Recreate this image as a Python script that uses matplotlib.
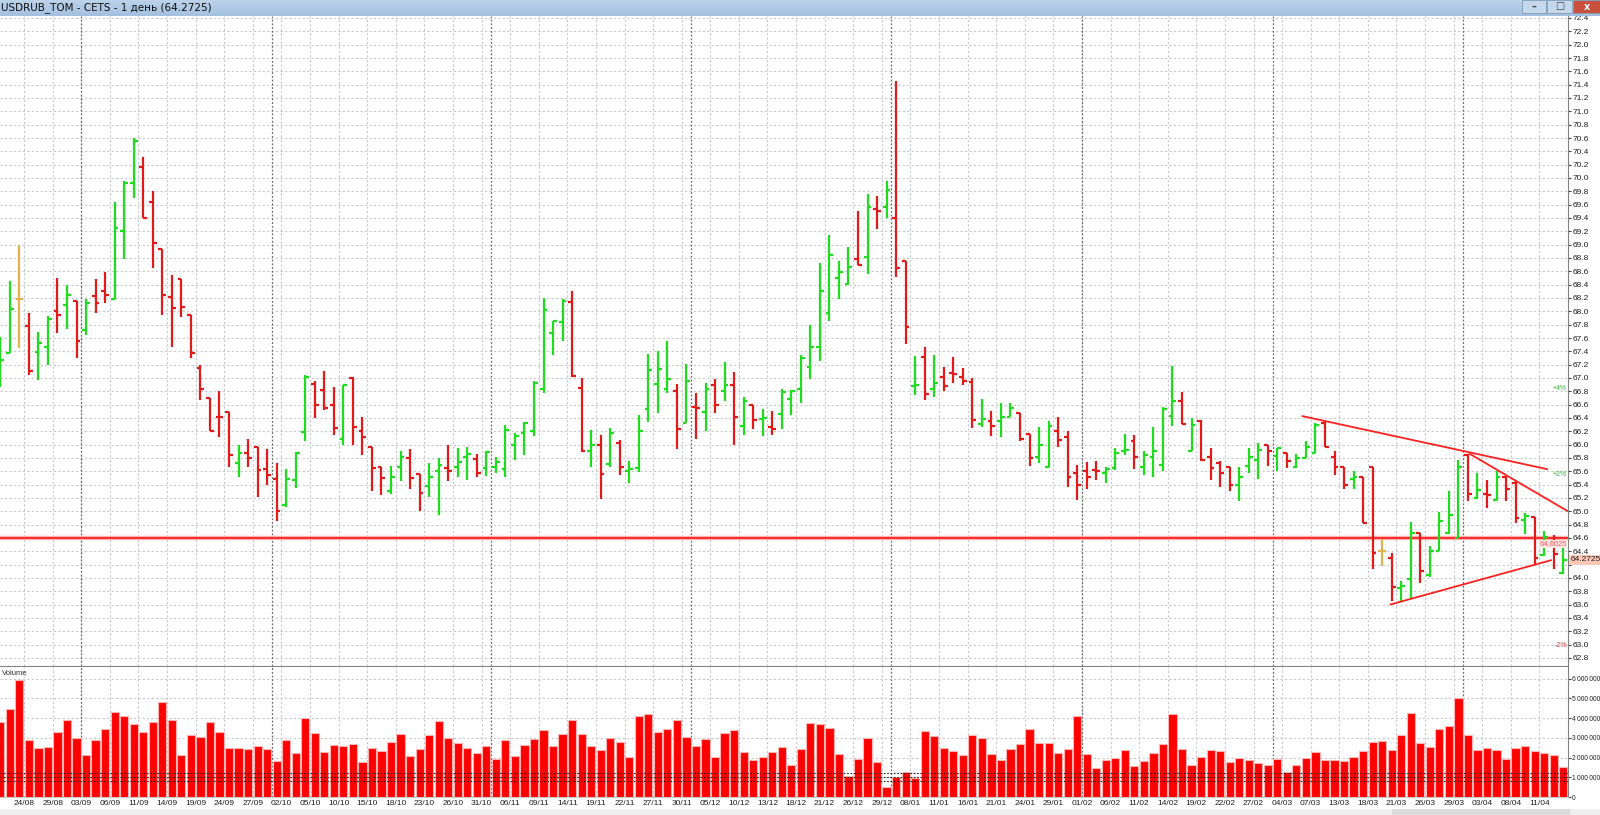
import matplotlib
matplotlib.use("Agg")
import matplotlib.pyplot as plt
from matplotlib import font_manager
from matplotlib.collections import LineCollection
from matplotlib.patches import Rectangle
import numpy as np

# ---- data ----
opens = [66.95, 67.37, 68.19, 67.78, 67.39, 67.47, 68.00, 68.09, 68.15, 67.72,
         68.23, 68.31, 68.19, 69.21, 69.92, 70.16, 69.64, 68.94, 68.21, 68.48,
         67.95, 67.15, 66.70, 66.42, 66.49, 65.72, 65.87, 65.97, 65.64, 65.49,
         65.09, 65.47, 66.19, 66.91, 66.82, 66.60, 66.09, 67.00, 66.20, 65.97,
         65.66, 65.31, 65.66, 65.80, 65.56, 65.38, 65.60, 65.65, 65.67, 65.82,
         65.79, 65.65, 65.66, 65.64, 66.00, 66.17, 66.20, 66.84, 67.67, 67.84,
         68.14, 66.85, 65.90, 66.00, 65.71, 66.02, 65.60, 65.65, 66.53, 66.91,
         66.84, 66.81, 66.32, 66.56, 66.49, 66.89, 66.80, 66.89, 66.28, 66.60,
         66.38, 66.26, 66.46, 66.69, 66.84, 67.16, 67.46, 67.98, 68.50, 68.41,
         68.78, 68.81, 69.53, 69.57, 69.40, 68.76, 66.88, 67.31, 66.83, 67.01,
         67.08, 67.01, 66.94, 66.31, 66.36, 66.36, 66.42, 66.48, 66.16, 65.82,
         65.67, 66.20, 66.12, 65.58, 65.60, 65.62, 65.58, 65.65, 65.91, 66.05,
         65.67, 65.82, 65.70, 66.43, 66.65, 65.91, 66.35, 65.81, 65.73, 65.66,
         65.40, 65.68, 65.77, 66.00, 65.83, 65.88, 65.67, 65.80, 65.88, 66.33,
         65.82, 65.66, 65.48, 65.52, 65.66, 64.40, 64.30, 63.85, 63.98, 64.67,
         64.05, 64.41, 64.67, 64.60, 65.85, 65.20, 65.26, 65.17, 65.52, 65.43,
         64.87, 64.92, 64.35, 64.52, 64.08]
highs = [67.62, 68.45, 69.00, 67.97, 67.69, 67.93, 68.50, 68.40, 68.15, 68.18,
         68.49, 68.59, 69.64, 69.95, 70.60, 70.31, 69.80, 68.94, 68.55, 68.48,
         67.95, 67.20, 66.70, 66.81, 66.49, 66.00, 66.09, 65.97, 65.94, 65.72,
         65.64, 65.89, 67.05, 66.95, 67.10, 66.87, 66.90, 67.01, 66.42, 65.97,
         65.67, 65.68, 65.90, 65.94, 65.56, 65.72, 65.80, 66.00, 65.95, 65.97,
         65.86, 65.90, 65.82, 66.30, 66.18, 66.34, 66.95, 68.20, 67.86, 68.18,
         68.30, 67.00, 66.22, 66.14, 66.25, 66.07, 65.76, 66.44, 67.36, 67.40,
         67.56, 66.91, 67.21, 66.78, 66.92, 66.98, 67.24, 67.09, 66.72, 66.60,
         66.54, 66.50, 66.83, 66.82, 67.34, 67.80, 68.72, 69.14, 68.75, 68.97,
         69.50, 69.76, 69.73, 69.96, 71.46, 68.76, 67.33, 67.46, 67.35, 67.16,
         67.31, 67.15, 67.00, 66.69, 66.51, 66.63, 66.63, 66.48, 66.16, 66.27,
         66.36, 66.42, 66.20, 65.70, 65.74, 65.75, 65.66, 65.95, 66.16, 66.15,
         65.91, 66.27, 66.56, 67.18, 66.79, 66.40, 66.37, 65.95, 65.75, 65.66,
         65.66, 65.95, 66.03, 66.00, 65.95, 65.88, 65.86, 66.05, 66.32, 66.35,
         65.90, 65.66, 65.60, 65.52, 65.66, 64.58, 64.37, 63.96, 64.84, 64.67,
         64.48, 64.99, 65.30, 65.77, 65.86, 65.57, 65.47, 65.61, 65.53, 65.45,
         64.97, 64.92, 64.71, 64.65, 64.45]
lows = [66.87, 67.37, 67.45, 67.05, 66.97, 67.20, 67.67, 67.74, 67.30, 67.64,
        67.97, 68.12, 68.19, 68.79, 69.70, 69.40, 68.65, 67.95, 67.46, 67.91,
        67.30, 66.67, 66.20, 66.11, 65.67, 65.51, 65.67, 65.21, 65.39, 64.85,
        65.07, 65.35, 66.05, 66.40, 66.52, 66.15, 66.00, 66.00, 65.85, 65.30,
        65.25, 65.26, 65.46, 65.34, 65.00, 65.22, 64.95, 65.45, 65.51, 65.47,
        65.51, 65.53, 65.58, 65.52, 65.77, 65.84, 66.13, 66.78, 67.34, 67.55,
        67.02, 65.89, 65.67, 65.19, 65.67, 65.54, 65.43, 65.59, 66.34, 66.48,
        66.78, 65.93, 66.32, 66.09, 66.20, 66.48, 66.65, 65.99, 66.14, 66.23,
        66.13, 66.14, 66.23, 66.44, 66.62, 66.98, 67.25, 67.86, 68.18, 68.39,
        68.70, 68.56, 69.24, 69.40, 68.52, 67.51, 66.75, 66.67, 66.71, 66.80,
        66.93, 66.90, 66.25, 66.27, 66.13, 66.11, 66.41, 66.05, 65.68, 65.72,
        65.67, 65.97, 65.36, 65.17, 65.33, 65.47, 65.42, 65.62, 65.85, 65.63,
        65.55, 65.51, 65.61, 66.28, 66.31, 65.91, 65.75, 65.47, 65.37, 65.31,
        65.16, 65.57, 65.48, 65.68, 65.60, 65.65, 65.65, 65.80, 65.87, 65.96,
        65.55, 65.33, 65.33, 64.82, 64.14, 64.18, 63.66, 63.66, 63.70, 63.93,
        64.01, 64.41, 64.66, 64.60, 65.15, 65.18, 65.05, 65.17, 65.15, 64.82,
        64.66, 64.21, 64.33, 64.13, 64.06]
closes = [67.27, 68.04, 68.19, 67.10, 67.53, 67.88, 67.94, 68.25, 67.55, 68.13,
          68.12, 68.25, 69.25, 69.92, 70.56, 69.40, 69.02, 68.25, 68.05, 68.06,
          67.37, 66.84, 66.21, 66.41, 65.84, 65.87, 65.80, 65.62, 65.54, 65.00,
          65.49, 65.87, 67.02, 66.60, 66.55, 66.25, 66.89, 66.27, 66.12, 65.65,
          65.50, 65.51, 65.82, 65.50, 65.27, 65.52, 65.70, 65.61, 65.74, 65.86,
          65.57, 65.89, 65.74, 66.22, 66.13, 66.33, 66.92, 68.02, 67.85, 68.15,
          67.03, 65.91, 65.99, 65.56, 66.18, 65.67, 65.63, 66.20, 67.12, 67.13,
          66.98, 66.23, 66.96, 66.55, 66.84, 66.59, 66.89, 66.41, 66.65, 66.37,
          66.40, 66.24, 66.79, 66.80, 67.30, 67.47, 68.30, 68.85, 68.59, 68.67,
          68.70, 69.57, 69.50, 69.82, 68.65, 67.76, 66.90, 66.76, 66.92, 66.88,
          67.06, 66.96, 66.37, 66.38, 66.28, 66.41, 66.55, 66.08, 65.80, 66.00,
          66.28, 66.07, 65.52, 65.40, 65.52, 65.60, 65.63, 65.87, 65.92, 65.82,
          65.85, 65.90, 66.53, 66.66, 66.31, 66.30, 65.77, 65.65, 65.58, 65.40,
          65.51, 65.82, 65.92, 65.90, 65.95, 65.75, 65.80, 65.97, 66.30, 65.97,
          65.66, 65.40, 65.52, 64.83, 64.38, 64.40, 63.87, 63.88, 64.67, 64.10,
          64.41, 64.85, 64.95, 65.66, 65.26, 65.32, 65.25, 65.52, 65.33, 64.90,
          64.93, 64.30, 64.62, 64.36, 64.27]
# volume in millions
volumes = [3.80, 4.44, 5.91, 2.87, 2.47, 2.52, 3.31, 3.92, 2.97, 2.15,
           2.89, 3.46, 4.29, 4.12, 3.72, 3.28, 3.78, 4.80, 3.89, 2.11,
           3.14, 3.04, 3.78, 3.28, 2.50, 2.47, 2.45, 2.60, 2.45, 1.81,
           2.89, 2.21, 3.99, 3.24, 2.30, 2.65, 2.60, 2.70, 1.77, 2.47,
           2.35, 2.80, 3.19, 2.09, 2.45, 3.16, 3.87, 2.99, 2.72, 2.50,
           2.21, 2.57, 1.94, 2.89, 2.09, 2.65, 2.92, 3.38, 2.60, 3.19,
           3.92, 3.18, 2.60, 2.40, 3.01, 2.77, 2.04, 4.09, 4.19, 3.29,
           3.46, 3.89, 3.06, 2.60, 2.94, 2.01, 3.24, 3.38, 2.26, 1.89,
           2.04, 2.28, 2.55, 1.64, 2.45, 3.77, 3.72, 3.48, 2.20, 1.06,
           1.91, 3.01, 1.77, 0.52, 1.00, 1.28, 0.98, 3.33, 3.09, 2.47,
           2.35, 2.15, 3.13, 2.97, 2.20, 1.86, 2.42, 2.67, 3.46, 2.75,
           2.75, 2.21, 2.45, 4.12, 2.16, 1.47, 1.86, 1.96, 2.36, 1.55,
           1.82, 2.23, 2.67, 4.19, 2.42, 1.62, 2.04, 2.40, 2.33, 1.79,
           1.99, 1.88, 1.74, 1.62, 1.91, 1.28, 1.60, 1.98, 2.30, 1.88,
           1.88, 1.82, 2.04, 2.31, 2.80, 2.82, 2.40, 3.16, 4.24, 2.74,
           2.52, 3.46, 3.60, 5.03, 3.13, 2.36, 2.47, 2.36, 1.91, 2.50,
           2.60, 2.31, 2.21, 2.11, 1.52]
date_labels = ['24/08', '29/08', '03/09', '06/09', '11/09', '14/09', '19/09', '24/09', '27/09',
               '02/10', '05/10', '10/10', '15/10', '18/10', '23/10', '26/10', '31/10',
               '06/11', '09/11', '14/11', '19/11', '22/11', '27/11', '30/11',
               '05/12', '10/12', '13/12', '18/12', '21/12', '26/12', '29/12',
               '08/01', '11/01', '16/01', '21/01', '24/01', '29/01',
               '01/02', '06/02', '11/02', '14/02', '19/02', '22/02', '27/02',
               '04/03', '07/03', '13/03', '18/03', '21/03', '26/03', '29/03',
               '03/04', '08/04', '11/04']
month_breaks = [8.5, 28.5, 51.5, 72.5, 93.5, 113.5, 133.5, 153.5]
level_line = 64.6025
last_price = 64.2725
trend_lines = [[(136.56, 66.43), (162.4, 65.63)],
               [(154.1, 65.87), (164.5, 65.00)],
               [(145.8, 63.60), (162.8, 64.27)]]
pct_levels = [4, 2, -2]

# ---- fonts ----
names = {f.name for f in font_manager.fontManager.ttflist}
small_font = 'DejaVu Sans'
for cand in ['Liberation Sans Narrow', 'DejaVu Sans Condensed', 'Liberation Sans']:
    if cand in names:
        small_font = cand
        break
plt.rcParams['font.family'] = [small_font, 'DejaVu Sans']

GREEN = '#1edc1e'
RED = '#e21a1a'
DOJI = '#e2b24e'
GRID = '#c8c8c8'
W, H = 1600, 815

fig = plt.figure(figsize=(W / 100, H / 100), dpi=100)
fig.patch.set_facecolor('white')

def fax(x0, y0, x1, y1):
    # axes from pixel box (top-left origin)
    return fig.add_axes([x0 / W, 1 - y1 / H, (x1 - x0) / W, (y1 - y0) / H])

ax = fax(0, 16, 1568, 666)
axv = fax(0, 667, 1568, 797)

n = len(closes)
x = np.arange(n)
xlim = (-0.03, 164.5)

# ---- price bars ----
segs, cols = [], []
for i in range(n):
    if closes[i] > opens[i]:
        c = GREEN
    elif closes[i] < opens[i]:
        c = RED
    else:
        c = DOJI
    segs += [[(i, lows[i]), (i, highs[i])],
             [(i - 0.4, opens[i]), (i, opens[i])],
             [(i, closes[i]), (i + 0.4, closes[i])]]
    cols += [c, c, c]
ax.add_collection(LineCollection(segs, colors=cols, linewidths=1.6, zorder=4,
                                 capstyle='butt'))

ax.set_xlim(*xlim)
ax.set_ylim(62.68, 72.43)

# grid
tick_pos = [2.5 + 3 * k for k in range(len(date_labels))]
for a in (ax, axv):
    for p in tick_pos:
        a.axvline(p, color=GRID, lw=0.8, ls=(0, (2, 2)), zorder=1)
    for p in month_breaks:
        a.axvline(p, color='#6a6a6a', lw=0.9, ls=(0, (1.5, 1.5)), zorder=1.5)
price_ticks = np.round(np.arange(62.8, 72.41, 0.2), 1)
for p in price_ticks:
    ax.axhline(p, color=GRID, lw=0.8, ls=(0, (2, 2)), zorder=1)

# level line
ax.axhline(level_line, color='#ffb4b4', lw=3.2, zorder=2)
ax.axhline(level_line, color='#ff2020', lw=1.3, zorder=3)
ax.text(164.4, level_line - 0.04, f'{level_line:.4f}', ha='right', va='top',
        fontsize=5.5, color='#ff5a5a', zorder=6,
        bbox=dict(facecolor='#ffe6e6', edgecolor='none', pad=0.3))

# trend lines
for (x0, y0), (x1, y1) in trend_lines:
    ax.plot([x0, x1], [y0, y1], color='#ff2020', lw=1.3, zorder=5,
            solid_capstyle='butt')

# percent marks
for pc in pct_levels:
    lvl = last_price * (1 + pc / 100)
    col = '#3cb43c' if pc > 0 else '#e04040'
    ax.text(164.4, lvl, f'{pc:+d}%', ha='right', va='center', fontsize=5,
            color=col, zorder=6)

# right price axis
ax.yaxis.tick_right()
ax.set_yticks(price_ticks)
ax.set_yticklabels(['' if abs(p - 64.2) < 1e-6 else f'{p:.1f}' for p in price_ticks])
ax.tick_params(axis='y', labelsize=6, length=2, pad=1, colors='#404040',
               labelcolor='#202020')
ax.tick_params(axis='x', bottom=False, labelbottom=False)
for s in ('top', 'left'):
    ax.spines[s].set_visible(False)
ax.spines['right'].set_color('#808080')
ax.spines['bottom'].set_color('#808080')
ax.text(1.0015, last_price, f'{last_price:.4f}', transform=ax.get_yaxis_transform(),
        ha='left', va='center', fontsize=6, color='#202020', zorder=7, clip_on=False,
        bbox=dict(facecolor='#ffc8b4', edgecolor='none', pad=1.0))

# ---- volume ----
axv.bar(x, volumes, width=0.86, color='#ff0000', edgecolor='#ffb4b4',
        linewidth=0.8, zorder=3)
for lvl in (0.8, 1.0, 1.2):
    axv.axhline(lvl, color='#202020', lw=0.8, ls=(0, (1.5, 1.5)), zorder=4)
vol_ticks = [0, 1, 2, 3, 4, 5, 6]
for v in vol_ticks[1:]:
    axv.axhline(v, color=GRID, lw=0.8, ls=(0, (2, 2)), zorder=1)
axv.set_xlim(*xlim)
axv.set_ylim(0, 6.59)
axv.yaxis.tick_right()
axv.set_yticks(vol_ticks)
axv.set_yticklabels(['0' if v == 0 else f'{v}\u2009000\u2009000' for v in vol_ticks])
axv.tick_params(axis='y', labelsize=4.8, length=2, pad=1, colors='#404040',
                labelcolor='#202020')
axv.set_xticks(tick_pos)
axv.set_xticklabels(date_labels)
axv.tick_params(axis='x', labelsize=6, length=0, pad=2.5, labelcolor='#202020')
for s in ('top', 'left'):
    axv.spines[s].set_visible(False)
axv.spines['right'].set_color('#808080')
axv.spines['bottom'].set_color('#c8c8c8')
axv.text(2 / 1568, 0.95, 'Volume', transform=axv.transAxes, ha='left', va='center',
         fontsize=5.5, color='#303030')

# ---- window chrome ----
tax = fax(0, 0, 1600, 16)
grad = np.linspace(0, 1, 16).reshape(-1, 1)
tax.imshow(grad, aspect='auto', extent=[0, 1600, 16, 0],
           cmap=matplotlib.colors.LinearSegmentedColormap.from_list('tb', ['#bcd2ea', '#a4c0e0']))
tax.set_xlim(0, 1600)
tax.set_ylim(16, 0)
tax.axis('off')
tax.text(1, 8, 'USDRUB_TOM - CETS - 1 день (64.2725)', ha='left', va='center',
         fontsize=7.5, color='#101010', family=['DejaVu Sans'])
for x0, x1, fc, sym in [(1522, 1546, '#c6d8ec', '\u2013'), (1547, 1572, '#c6d8ec', '\u25a1'),
                        (1573, 1600, '#c8503c', 'x')]:
    tax.add_patch(Rectangle((x0, 0), x1 - x0, 13, facecolor=fc, edgecolor='#7f9db9', lw=0.6))
    tax.text((x0 + x1) / 2, 6.5, sym, ha='center', va='center', fontsize=7,
             color='white' if sym == 'x' else '#404850', fontweight='bold',
             family=['DejaVu Sans'])

# bottom scrollbar strip
fig.patches.append(Rectangle((0, 0), 1, 6 / H, transform=fig.transFigure,
                             facecolor='#efefef', edgecolor='none'))
fig.patches.append(Rectangle((1392 / W, 0), 178 / W, 6 / H, transform=fig.transFigure,
                             facecolor='#dcdcdc', edgecolor='none'))

fig.savefig('out.png', dpi=100)
